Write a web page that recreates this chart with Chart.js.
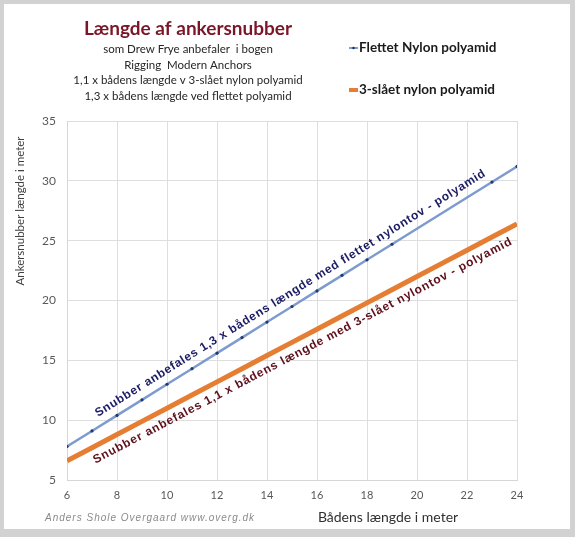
<!DOCTYPE html>
<html>
<head>
<meta charset="utf-8">
<script src="https://cdn.jsdelivr.net/npm/chart.js@4/dist/chart.umd.min.js"></script>
<style>
  body { margin: 0; background: #d2d2d2; }
  #ramme { position: absolute; left: 4px; top: 4px; width: 566px; height: 525px; background: #fff; }
</style>
</head>
<body>
<div id="ramme"><canvas id="graf" width="566" height="525"></canvas></div>
<script>
// bådens længde (m)
const laengder = [6, 7, 8, 9, 10, 11, 12, 13, 14, 15, 16, 17, 18, 19, 20, 21, 22, 23, 24];
// flettet nylon, punkter mangler ved 20-22
const flettet = [7.8, 9.1, 10.4, 11.7, 13, 14.3, 15.6, 16.9, 18.2, 19.5, 20.8, 22.1, 23.4, 24.7, null, null, null, 29.9, 31.2];
// 3-slået nylon
const treslaaet = [6.6, 7.7, 8.8, 9.9, 11, 12.1, 13.2, 14.3, 15.4, 16.5, 17.6, 18.7, 19.8, 20.9, 22, 23.1, 24.2, 25.3, 26.4];

const xTicks = [6, 8, 10, 12, 14, 16, 18, 20, 22, 24];
const yTicks = [5, 10, 15, 20, 25, 30, 35];

const serieNavne = ['Flettet Nylon polyamid', '3-slået nylon polyamid'];
const titel = 'Længde af ankersnubber';
const undertitel = [
  'som Drew Frye anbefaler  i bogen',
  'Rigging  Modern Anchors',
  '1,1 x bådens længde v 3-slået nylon polyamid',
  '1,3 x bådens længde ved flettet polyamid'
];
const tekstFlettet = 'Snubber anbefales 1,3 x bådens længde med flettet nylontov - polyamid';
const tekst3slaaet = 'Snubber anbefales 1,1 x bådens længde med 3-slået nylontov - polyamid';

const blaa = '#7d9bcf';
const orange = '#e57d33';

function punkter(ys) {
  return laengder.map((x, i) => ({ x: x, y: ys[i] }));
}

// tekst langs en linje
function skraaTekst(ctx, chart, ys, tekst, farve, xVal, afstand, laengde) {
  const sx = chart.scales.x, sy = chart.scales.y;
  const n = laengder.length - 1;
  const x1 = sx.getPixelForValue(laengder[0]), y1 = sy.getPixelForValue(ys[0]);
  const x2 = sx.getPixelForValue(laengder[n]), y2 = sy.getPixelForValue(ys[n]);
  const vinkel = Math.atan2(y2 - y1, x2 - x1);
  const t = (xVal - laengder[0]) / (laengder[n] - laengder[0]);
  const px = x1 + (x2 - x1) * t;
  const py = y1 + (y2 - y1) * t;
  // normal vinkelret på linjen
  const cx = px + afstand * Math.sin(vinkel);
  const cy = py - afstand * Math.cos(vinkel);
  ctx.save();
  ctx.translate(cx, cy);
  ctx.rotate(vinkel);
  ctx.font = 'bold 12px Arial, "Liberation Sans", sans-serif';
  const b = ctx.measureText(tekst).width;
  const ls = (laengde - b) / tekst.length;
  ctx.letterSpacing = ls.toFixed(2) + 'px';
  ctx.fillStyle = farve;
  ctx.textAlign = 'left';
  ctx.textBaseline = 'middle';
  ctx.fillText(tekst, -laengde / 2, 0);
  ctx.restore();
}

const tekster = {
  id: 'tekster',
  afterDatasetsDraw(chart) {
    const ctx = chart.ctx;
    ctx.save();

    // titel og undertitel
    ctx.textAlign = 'center';
    ctx.textBaseline = 'alphabetic';
    ctx.fillStyle = '#7a1628';
    ctx.font = 'bold 19px Lato, "Open Sans", sans-serif';
    ctx.fillText(titel, 184, 31);
    ctx.fillStyle = '#262626';
    ctx.font = '11.5px Lato, "Open Sans", sans-serif';
    undertitel.forEach((l, i) => ctx.fillText(l, 184, 49 + i * 15.5));

    // forklaring
    ctx.textAlign = 'left';
    ctx.textBaseline = 'middle';
    ctx.font = 'bold 13.5px Lato, "Open Sans", sans-serif';
    ctx.fillStyle = '#1a1a1a';
    ctx.fillText(serieNavne[0], 355, 44);
    ctx.fillText(serieNavne[1], 355, 86);
    ctx.strokeStyle = blaa;
    ctx.lineWidth = 2;
    ctx.beginPath(); ctx.moveTo(345, 44); ctx.lineTo(354, 44); ctx.stroke();
    ctx.fillStyle = '#1f3a6e';
    ctx.beginPath(); ctx.arc(349.5, 44, 1.3, 0, Math.PI * 2); ctx.fill();
    ctx.strokeStyle = orange;
    ctx.lineWidth = 4;
    ctx.beginPath(); ctx.moveTo(345, 86); ctx.lineTo(354, 86); ctx.stroke();

    // aksetitler
    ctx.fillStyle = '#303030';
    ctx.textAlign = 'center';
    ctx.font = '14px Lato, "Open Sans", sans-serif';
    ctx.fillText('Bådens længde i meter', 384, 513);
    ctx.save();
    ctx.translate(16, 207);
    ctx.rotate(-Math.PI / 2);
    ctx.font = '11.5px Lato, "Open Sans", sans-serif';
    ctx.fillStyle = '#404040';
    ctx.fillText('Ankersnubber længde i meter', 0, 0);
    ctx.restore();

    // signatur
    ctx.textAlign = 'left';
    ctx.font = 'italic 10px "Liberation Sans", sans-serif';
    ctx.letterSpacing = '1px';
    ctx.fillStyle = '#8a8a8a';
    ctx.fillText('Anders Shole Overgaard www.overg.dk', 41, 514);
    ctx.letterSpacing = '0px';

    skraaTekst(ctx, chart, flettet.map((v, i) => laengder[i] * 1.3), tekstFlettet, '#1c1c66', 15.2, 12, 458);
    skraaTekst(ctx, chart, treslaaet, tekst3slaaet, '#5e0f1c', 15.2, -12.5, 472);
    ctx.restore();
  }
};

new Chart(document.getElementById('graf'), {
  type: 'line',
  data: {
    datasets: [
      {
        label: serieNavne[0],
        data: punkter(flettet),
        borderColor: blaa,
        borderWidth: 2.5,
        pointRadius: 1.6,
        pointBackgroundColor: '#1f3a6e',
        pointBorderWidth: 0,
        spanGaps: true,
        tension: 0
      },
      {
        label: serieNavne[1],
        data: punkter(treslaaet),
        borderColor: orange,
        borderWidth: 5,
        pointRadius: 0,
        tension: 0
      }
    ]
  },
  options: {
    responsive: false,
    animation: false,
    layout: { padding: { top: 117, right: 53, left: 0, bottom: 0 } },
    plugins: {
      legend: { display: false },
      tooltip: { enabled: false }
    },
    scales: {
      x: {
        type: 'linear',
        min: 6,
        max: 24,
        afterBuildTicks: s => { s.ticks = xTicks.map(v => ({ value: v })); },
        afterFit: s => { s.height = 49; },
        grid: { color: '#dedede', drawTicks: false },
        border: { color: '#d6d6d6' },
        ticks: { color: '#595959', padding: 9, font: { size: 11, family: 'Lato' } }
      },
      y: {
        min: 5,
        max: 35,
        afterBuildTicks: s => { s.ticks = yTicks.map(v => ({ value: v })); },
        afterFit: s => { s.width = 63; },
        grid: { color: '#dedede', drawTicks: false },
        border: { color: '#d6d6d6' },
        ticks: { color: '#595959', padding: 11, font: { size: 12, family: 'Lato' } }
      }
    }
  },
  plugins: [tekster]
});
</script>
</body>
</html>
